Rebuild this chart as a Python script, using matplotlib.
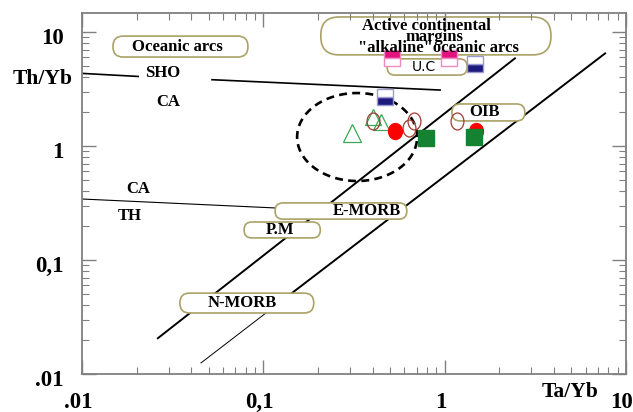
import numpy as np
import matplotlib
matplotlib.use('Agg')
import matplotlib.pyplot as plt
from matplotlib.patches import FancyBboxPatch
from matplotlib.path import Path
from matplotlib.ticker import NullFormatter
from matplotlib.transforms import ScaledTranslation

plt.rcParams['font.family'] = ['Liberation Serif', 'DejaVu Serif']
plt.rcParams['font.weight'] = 'bold'

# Samples (Ta/Yb, Th/Yb)
navy_x = [0.469, 1.47]
navy_y = [2.69, 5.24]
pink_x = [0.513, 1.06]
pink_y = [5.92, 5.92]
tri_big_x = [0.308]
tri_big_y = [1.30]
tri_x = [0.403, 0.446]
tri_y = [1.80, 1.62]
ring_x = [0.403, 0.678, 0.636, 1.17]
ring_y = [1.66, 1.66, 1.44, 1.66]
red_x = [0.532, 1.49]
red_y = [1.35, 1.35]
green_x = [0.790, 1.45]
green_y = [1.18, 1.20]

# Field boundaries
sho_x = [[0.01, 0.0204], [0.0521, 0.944]]
sho_y = [[4.34, 4.08], [3.82, 3.10]]
th_x = [0.01, 0.13]
th_y = [0.343, 0.284]
upper_x = [0.0262, 2.44]
upper_y = [0.0206, 5.88]
lower_x = [0.0453, 0.122, 7.67]
lower_y = [0.0125, 0.042, 6.5]

# dashed field: centre and half widths in decades
field_centre = (0.329, 1.20)
field_half = (0.331, 0.386)

tick_vals = [0.01, 0.1, 1, 10]
tick_text = ['.01', '0,1', '1', '10']

fig = plt.figure(figsize=(6.33, 4.12), dpi=100)
ax = fig.add_axes([82 / 633, 38 / 412, 544 / 633, 361 / 412])
ax.set_xscale('log')
ax.set_yscale('log')
ax.set_xlim(0.01, 10)
ax.set_ylim(0.01, 14.7)

# lines
for xs, ys in zip(sho_x, sho_y):
    ax.plot(xs, ys, color='black', lw=1.2, zorder=1)
ax.plot(th_x, th_y, color='black', lw=0.8, zorder=1)
ax.plot(upper_x, upper_y, color='black', lw=1.4, zorder=1)
ax.plot(lower_x[:2], lower_y[:2], color='black', lw=0.7, zorder=1)
ax.plot(lower_x[1:], lower_y[1:], color='black', lw=1.4, zorder=1)

t = np.linspace(0, 2 * np.pi, 300)
ex = 10 ** (np.log10(field_centre[0]) + field_half[0] * np.cos(t))
ey = 10 ** (np.log10(field_centre[1]) + field_half[1] * np.sin(t))
ax.plot(ex, ey, color='black', lw=1.9, linestyle=(0, (3, 2)), zorder=1)

# rounded label boxes, in axes fractions
aspect = 544 / 361
boxes = [
    (0.057, 0.878, 0.305, 0.936),
    (0.439, 0.884, 0.862, 0.989),
    (0.561, 0.828, 0.708, 0.873),
    (0.680, 0.701, 0.814, 0.748),
    (0.355, 0.429, 0.597, 0.474),
    (0.298, 0.377, 0.438, 0.421),
    (0.180, 0.169, 0.426, 0.224),
]
for x0, y0, x1, y1 in boxes:
    r = (y1 - y0) * 0.48 / aspect
    ax.add_patch(FancyBboxPatch((x0, y0), x1 - x0, y1 - y0,
                                boxstyle=f'round,pad=0,rounding_size={r}',
                                mutation_aspect=aspect, transform=ax.transAxes,
                                facecolor='white', edgecolor='#aaa266', lw=1.2,
                                zorder=1.5))

labels = [
    ('Oceanic arcs', 0.176, 0.907),
    ('Active continental', 0.634, 0.965),
    ('margins', 0.647, 0.933),
    ('"alkaline"oceanic arcs', 0.656, 0.903),
    ('OIB', 0.739, 0.726),
    ('E-MORB', 0.524, 0.452),
    ('P.M', 0.364, 0.399),
    ('N-MORB', 0.294, 0.197),
    ('SHO', 0.149, 0.834),
    ('CA', 0.158, 0.753),
    ('CA', 0.103, 0.512),
    ('TH', 0.088, 0.438),
]
for s, fx, fy in labels:
    ax.text(fx, fy, s, transform=ax.transAxes, ha='center', va='center',
            fontsize=12, zorder=2.2)
ax.text(0.629, 0.850, 'U.C', transform=ax.transAxes, ha='center', va='center',
        fontsize=10, family='DejaVu Sans', fontweight='normal', zorder=2.2)

# markers
circ = Path.unit_circle()
ring_marker = Path(circ.vertices * [0.76, 1.0], circ.codes)
dot_marker = Path(circ.vertices * [0.87, 1.0], circ.codes)

ax.plot(navy_x, navy_y, 's', ms=11, fillstyle='bottom', markerfacecolor='#1c1a7c',
        markerfacecoloralt='white', markeredgecolor='#9c9ad2', mew=1, zorder=2)
ax.plot(pink_x, pink_y, 's', ms=11, fillstyle='top', markerfacecolor='#e2127e',
        markerfacecoloralt='white', markeredgecolor='#f28ac2', mew=1, zorder=2)
ax.plot(tri_big_x, tri_big_y, '^', ms=13.5, mfc='none', mec='#3aa855', mew=0.9, zorder=2)
ax.plot(tri_x, tri_y, '^', ms=12, mfc='none', mec='#3aa855', mew=0.9, zorder=2)
ax.plot(ring_x, ring_y, marker=ring_marker, ls='none', ms=12.2, mfc='none',
        mec='#a33a32', mew=0.9, zorder=2)
ax.plot(red_x, red_y, marker=dot_marker, ls='none', ms=11.5, color='#ff0000', zorder=2)
ax.plot(green_x, green_y, 's', ms=11.5, color='#158232', zorder=2.1)

# axes styling
ax.set_xticks(tick_vals)
ax.set_xticklabels(tick_text)
ax.set_yticks(tick_vals)
ax.set_yticklabels(tick_text)
ax.xaxis.set_minor_formatter(NullFormatter())
ax.yaxis.set_minor_formatter(NullFormatter())
ax.tick_params(which='both', direction='in', top=True, right=True, color='#808080')
ax.tick_params(which='major', length=10, width=1, labelsize=16.5, pad=13)
ax.tick_params(which='minor', length=5, width=0.8)
for sp in ax.spines.values():
    sp.set_color('#808080')
    sp.set_linewidth(1.3)

shift_x = ScaledTranslation(-0.04, 0, fig.dpi_scale_trans)
shift_y = ScaledTranslation(0, -0.04, fig.dpi_scale_trans)
for lab in ax.get_xticklabels():
    lab.set_transform(lab.get_transform() + shift_x)
for lab in ax.get_yticklabels():
    lab.set_transform(lab.get_transform() + shift_y)

ax.text(-0.0717, 0.817, 'Th/Yb', transform=ax.transAxes, ha='center', va='center',
        fontsize=15.5)
ax.text(0.897, -0.05, 'Ta/Yb', transform=ax.transAxes, ha='center', va='center',
        fontsize=15.5)

fig.savefig('out.png', dpi=100)
